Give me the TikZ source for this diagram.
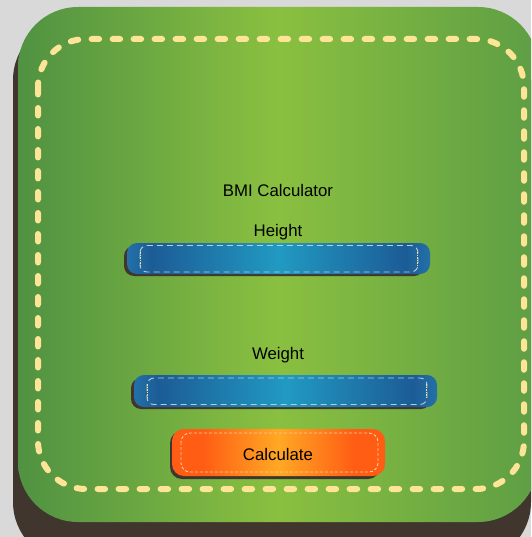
\documentclass[tikz,border=0pt]{standalone}
\usepackage{fontspec}
\setmainfont{Liberation Sans}
\definecolor{bggray}{RGB}{217,217,217}
\definecolor{shadowbrown}{RGB}{64,54,46}
\definecolor{gleft}{RGB}{80,146,66}
\definecolor{gmid}{RGB}{138,192,64}
\definecolor{gright}{RGB}{94,158,68}
\definecolor{cream}{RGB}{253,228,150}
\definecolor{bedge}{RGB}{36,112,168}
\definecolor{bband}{RGB}{28,92,150}
\definecolor{bmid}{RGB}{33,154,194}
\definecolor{oedge}{RGB}{255,92,20}
\definecolor{omid}{RGB}{255,168,36}
\definecolor{stitch}{RGB}{185,205,215}
\definecolor{ystitch}{RGB}{240,225,160}
\definecolor{ostitch}{RGB}{255,205,160}
\pgfdeclarehorizontalshading{bluebar}{100bp}{color(0bp)=(bedge); color(25bp)=(bedge); color(29bp)=(bband); color(50bp)=(bmid); color(71bp)=(bband); color(75bp)=(bedge); color(100bp)=(bedge)}
\pgfdeclarehorizontalshading{orangebar}{100bp}{color(0bp)=(oedge); color(25bp)=(oedge); color(32bp)=(oedge); color(50bp)=(omid); color(68bp)=(oedge); color(75bp)=(oedge); color(100bp)=(oedge)}
\tikzset{
  lbl/.style={font=\fontsize{16.8}{19}\selectfont, text=black, inner sep=0pt},
  fieldshadow/.style={fill=shadowbrown, rounded corners=10pt},
  fieldbar/.style={shading=bluebar, rounded corners=10pt},
  fieldstitch/.style={draw=stitch, line width=0.9pt, dash pattern=on 6pt off 4pt, rounded corners=7pt},
  endstitch/.style={draw=ystitch, line width=1pt, dash pattern=on 1.5pt off 1pt},
  btnbar/.style={shading=orangebar, rounded corners=12pt},
  btnstitch/.style={draw=ostitch, line width=0.9pt, dash pattern=on 3pt off 2pt, rounded corners=9pt},
}
\begin{document}
\begin{tikzpicture}[x=1pt,y=-1pt]
\useasboundingbox (0,0) rectangle (531,537);
\clip (0,0) rectangle (531,537);
\fill[bggray] (0,0) rectangle (531,537);
% card shadow and card
\fill[shadowbrown, rounded corners=60pt] (13,20) rectangle (531,562);
\shade[left color=gleft, right color=gright, middle color=gmid, rounded corners=60pt] (18,7) rectangle (538,522);
% stitched border
\draw[cream, line width=6pt, line cap=round, dash pattern=on 7.5pt off 13.5pt, rounded corners=48pt] (38,39) rectangle (524,489);
% title
\node[lbl] (title) at (278,190) {BMI Calculator};
% height field
\node[lbl] (hlabel) at (278,232) {Height};
\fill[fieldshadow] (124,246) rectangle (424,276);
\shade[fieldbar] (127,243) rectangle (430,274);
\draw[fieldstitch] (140,245.5) rectangle (418,272);
\draw[endstitch] (140.5,252) -- (140.5,266);
\draw[endstitch] (417.5,252) -- (417.5,266);
% weight field
\node[lbl] (wlabel) at (278,355) {Weight};
\fill[fieldshadow] (131,378) rectangle (431,409);
\shade[fieldbar] (134,375) rectangle (437,407);
\draw[fieldstitch] (147,378) rectangle (427,404.5);
\draw[endstitch] (147.5,384) -- (147.5,399);
\draw[endstitch] (426.5,384) -- (426.5,399);
% calculate button
\fill[shadowbrown, rounded corners=12pt] (170,431) rectangle (380,479);
\shade[btnbar] (172,429) rectangle (385,476);
\draw[btnstitch] (181,433) rectangle (378,472);
\node[lbl] (calc) at (278,454) {Calculate};
\end{tikzpicture}
\end{document}
